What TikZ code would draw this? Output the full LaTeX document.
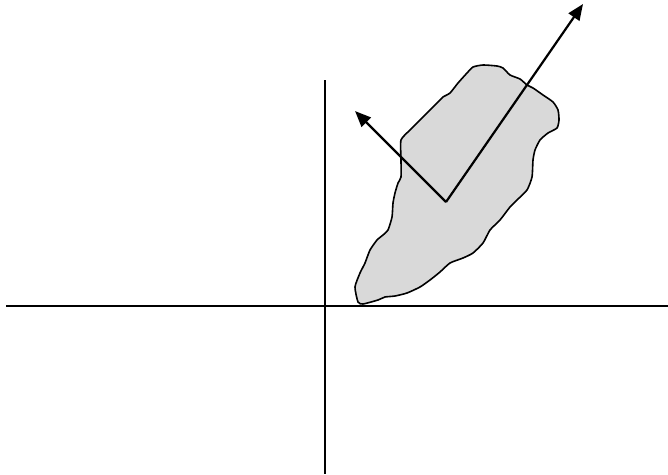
\documentclass[tikz,border=0pt]{standalone}
\usetikzlibrary{arrows.meta}
\definecolor{blobgray}{HTML}{D9D9D9}
\tikzset{
  axis/.style={line width=1.7pt},
  vec/.style={line width=2.2pt,-{Triangle[length=16pt,width=13pt]}},
  blob/.style={fill=blobgray,draw=black,line width=1.6pt}
}
\begin{document}
\begin{tikzpicture}[x=1pt,y=-1pt]
\useasboundingbox (0,0) rectangle (668,474);
% blob
\draw[blob] plot[smooth cycle,tension=0.35] coordinates {
(355,287)(358,302)(363,304)(378,300)(385,297)(395,296)(407,293)(420,287)(430,280)(440,272)
(450,263)(463,258)(473,253)(483,243)(490,230)(500,220)(510,207)(517,200)(527,190)(532,177)
(533,160)(535,150)(540,140)(548,133)(557,128)(559,120)(558,110)(553,102)(543,95)
(533,88)(527,85)(520,79)(510,75)(503,68)(497,66)(483,65)(473,67)(467,73)(458,83)(450,93)
(443,97)(437,103)(428,112)(418,122)(410,130)(401,140)(401,160)(401,177)(398,183)(395,193)
(393,203)(392,217)(388,230)(383,235)(377,240)(370,250)(365,263)(360,273)};
% axes
\coordinate (xl) at (6,306);
\coordinate (xr) at (668,306);
\coordinate (yt) at (325,80);
\coordinate (yb) at (325,474);
\draw[axis] (xl) -- (xr);
\draw[axis] (yt) -- (yb);
% vectors
\coordinate (o) at (446,202);
\coordinate (p1) at (583,4);
\coordinate (p2) at (355,111);
\draw[vec,line join=miter] (o) -- (p1);
\draw[vec] (o) -- (p2);
\end{tikzpicture}
\end{document}
